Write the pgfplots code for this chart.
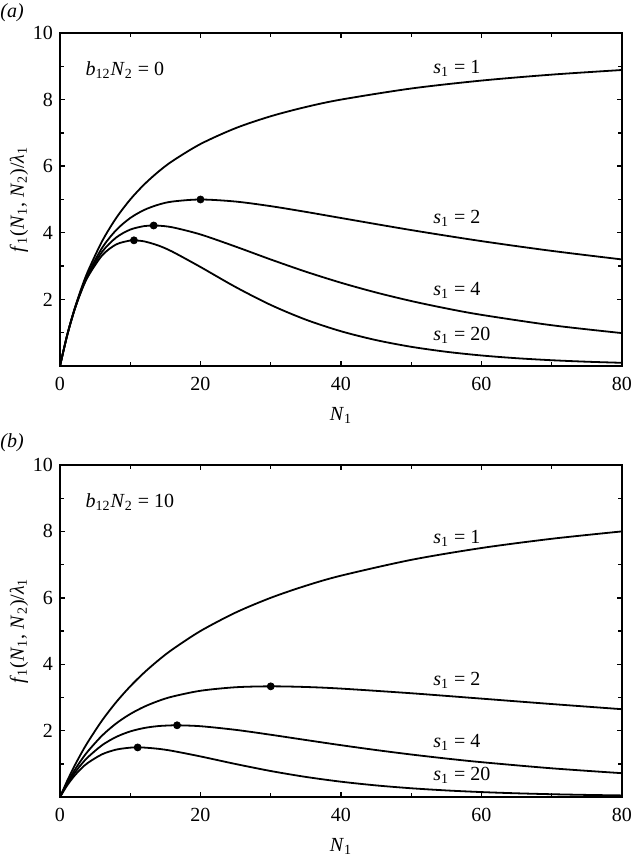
\documentclass[border=0pt]{standalone}
\usepackage{fontspec}
\setmainfont{Liberation Serif}
\usepackage{pgfplots}
\pgfplotsset{compat=1.18}

\newcommand{\sub}[1]{\textsubscript{#1}}

\tikzset{lab/.style={anchor=west, inner sep=0pt}}

\pgfplotsset{
  panel/.style={
    width=281pt, height=166.5pt, scale only axis,
    xmin=0, xmax=80, ymin=0, ymax=10,
    xtick={0,20,...,80}, minor xtick={10,30,50,70},
    ytick={2,4,6,8,10}, minor ytick={1,3,5,7,9},
    major tick length=2.5pt, minor tick length=2.2pt,
    tick style={line width=0.7pt, black},
    axis line style={line width=0.95pt},
    /pgf/number format/assume math mode=true,
    tick label style={font=\fontsize{10}{11}\selectfont},
    label style={font=\fontsize{10}{11}\selectfont},
    xticklabel style={yshift=-2pt},
    xlabel={\textit{N}\sub{1}},
    ylabel={\textit{f}\sub{1}(\textit{N}\sub{1}, \textit{N}\sub{2})/\textit{λ}\sub{1}},
    xlabel style={at={(axis description cs:0.5,-0.150)}, anchor=center},
    ylabel style={at={(axis description cs:-0.073,0.5)}, anchor=center},
  },
  curve/.style={black, line width=0.9pt, smooth, mark=none},
  peak/.style={only marks, mark=*, mark size=1.75pt, black},
}

\begin{document}
\fontsize{10}{11}\selectfont
\begin{tikzpicture}
\path[use as bounding box] (0,0) rectangle (317pt,429pt);

\node[lab] at (0pt,422.5pt) {\textit{(a)}};
\node[lab] at (0pt,207.5pt) {\textit{(b)}};

% (a) no competitor
\begin{axis}[panel, at={(30pt,246pt)}, anchor=south west]
\addplot[curve] coordinates {(0,0) (1,0.9091) (2,1.6667) (3,2.3077) (4,2.8571) (6,3.75) (8,4.4444) (10,5) (12,5.4545) (14,5.8333) (16,6.1538) (20,6.6667) (25,7.1429) (30,7.5) (35,7.7778) (40,8) (50,8.3333) (60,8.5714) (70,8.75) (80,8.8889)};
\addplot[curve] coordinates {(0,0) (1,0.9070) (2,1.6529) (3,2.2684) (4,2.7778) (6,3.5503) (8,4.0816) (10,4.4444) (12,4.6875) (14,4.8443) (16,4.9383) (20,5) (25,4.9383) (30,4.8) (35,4.6281) (40,4.4444) (50,4.0816) (60,3.75) (70,3.4568) (80,3.2)};
\addplot[curve] coordinates {(0,0) (1,0.9060) (2,1.6454) (3,2.2464) (4,2.7320) (6,3.4305) (8,3.8580) (10,4.0960) (12,4.2015) (13.333,4.2188) (14,4.2150) (16,4.1649) (20,3.9506) (25,3.5853) (30,3.1987) (35,2.8318) (40,2.5) (45,2.2069) (50,1.9509) (55,1.7287) (60,1.536) (70,1.2240) (80,0.9877)};
\addplot[curve] coordinates {(0,0) (1,0.9051) (2,1.6391) (3,2.2274) (4,2.6919) (6,3.3221) (8,3.6511) (10,3.7689) (10.526,3.774) (12,3.7416) (14,3.6179) (16,3.4328) (20,2.9729) (25,2.3708) (30,1.8330) (35,1.3910) (40,1.0434) (45,0.7771) (50,0.5765) (55,0.4267) (60,0.3157) (65,0.2337) (70,0.1732) (75,0.1285) (80,0.0956)};
\addplot[peak] coordinates {(20,5) (13.333,4.2188) (10.526,3.774)};
\node[lab] at (axis cs:3.6,8.9) {\textit{b}\sub{12}\textit{N}\sub{2} = 0};
\node[lab] at (axis cs:53.1,8.95) {\textit{s}\sub{1} = 1};
\node[lab] at (axis cs:53.1,4.44) {\textit{s}\sub{1} = 2};
\node[lab] at (axis cs:53.1,2.28) {\textit{s}\sub{1} = 4};
\node[lab] at (axis cs:53.1,0.93) {\textit{s}\sub{1} = 20};
\end{axis}

% (b) competitor present
\begin{axis}[panel, at={(30pt,30.5pt)}, anchor=south west, height=166pt]
\addplot[curve] coordinates {(0,0) (1,0.4762) (2,0.9091) (3,1.3043) (4,1.6667) (6,2.3077) (8,2.8571) (10,3.3333) (12,3.75) (14,4.1176) (16,4.4444) (20,5) (25,5.5556) (30,6) (35,6.3636) (40,6.6667) (50,7.1429) (60,7.5) (70,7.7778) (80,8)};
\addplot[curve] coordinates {(0,0) (1,0.4162) (2,0.78125) (3,1.1019) (4,1.3841) (6,1.8519) (8,2.2161) (10,2.5) (12,2.7211) (14,2.8926) (16,3.0246) (20,3.2) (25,3.3058) (30,3.3333) (35,3.3136) (40,3.2653) (50,3.125) (60,2.9630) (70,2.8) (80,2.6446)};
\addplot[curve] coordinates {(0,0) (1,0.3784) (2,0.7003) (3,0.9733) (4,1.2043) (6,1.5618) (8,1.8097) (10,1.9753) (12,2.0790) (14,2.1362) (16,2.1586) (16.667,2.16) (20,2.1324) (25,2.0227) (30,1.875) (35,1.7165) (40,1.5607) (45,1.4144) (50,1.28) (55,1.1584) (60,1.0491) (70,0.8642) (80,0.7171)};
\addplot[curve] coordinates {(0,0) (1,0.3427) (2,0.6236) (3,0.8514) (4,1.0337) (6,1.2873) (8,1.4274) (10,1.4864) (11.053,1.493) (12,1.4884) (14,1.4513) (16,1.3885) (20,1.2220) (25,0.9936) (30,0.7825) (35,0.6044) (40,0.4612) (45,0.3491) (50,0.2631) (55,0.1977) (60,0.1484) (65,0.1114) (70,0.0837) (75,0.0629) (80,0.0474)};
\addplot[peak] coordinates {(30,3.3333) (16.667,2.16) (11.053,1.493)};
\node[lab] at (axis cs:3.6,8.89) {\textit{b}\sub{12}\textit{N}\sub{2} = 10};
\node[lab] at (axis cs:53.1,7.80) {\textit{s}\sub{1} = 1};
\node[lab] at (axis cs:53.1,3.52) {\textit{s}\sub{1} = 2};
\node[lab] at (axis cs:53.1,1.63) {\textit{s}\sub{1} = 4};
\node[lab] at (axis cs:53.1,0.66) {\textit{s}\sub{1} = 20};
\end{axis}
\end{tikzpicture}
\end{document}
